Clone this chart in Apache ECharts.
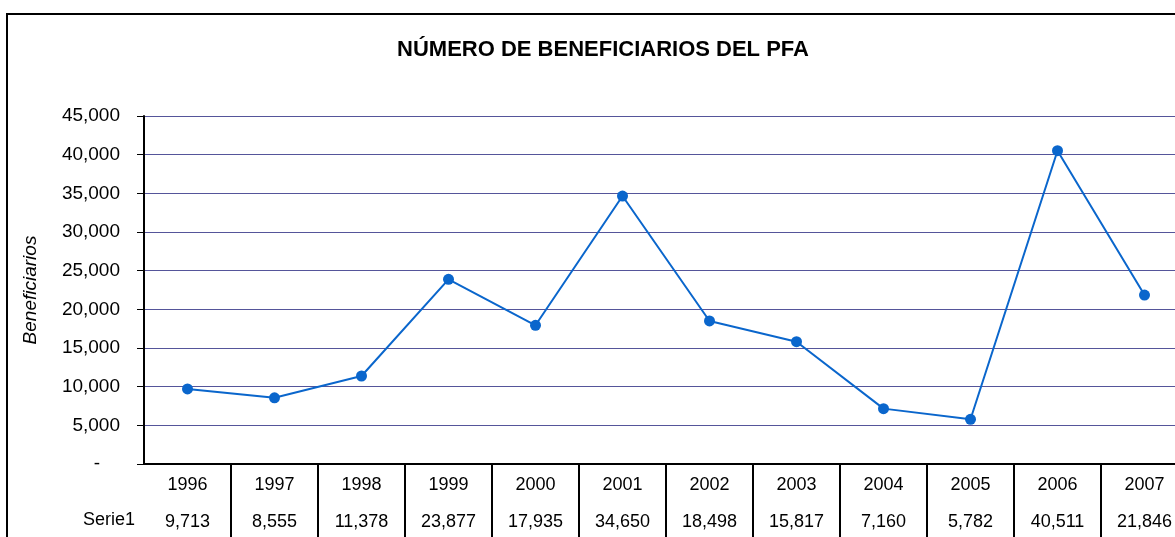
<!DOCTYPE html>
<html>
<head>
<meta charset="utf-8">
<script src="https://cdn.jsdelivr.net/npm/echarts@6/dist/echarts.min.js"></script>
<style>
html,body{margin:0;padding:0;background:#fff;}
#chart{width:1175px;height:537px;}
</style>
</head>
<body>
<div id="chart"></div>
<script>
const categories = ['1996','1997','1998','1999','2000','2001','2002','2003','2004','2005','2006','2007'];
const serie1 = [9713, 8555, 11378, 23877, 17935, 34650, 18498, 15817, 7160, 5782, 40511, 21846];
const seriesName = 'Serie1';
const chartTitle = 'NÚMERO DE BENEFICIARIOS DEL PFA';
const yAxisName = 'Beneficiarios';

const fmt = v => v === 0 ? '-' : v.toLocaleString('en-US');
const FONT = '"Liberation Sans", Arial, sans-serif';

const chart = echarts.init(document.getElementById('chart'), null, {renderer: 'canvas'});
chart.setOption({
  backgroundColor: '#ffffff',
  animation: false,
  title: {
    text: chartTitle,
    left: 598, top: 34, textAlign: 'center',
    textStyle: {fontFamily: FONT, fontWeight: 'bold', fontSize: 22, color: '#000'}
  },
  graphic: [
    {type: 'rect', shape: {x: 7, y: 14, width: 1300, height: 700}, silent: true,
     style: {fill: 'none', stroke: '#000', lineWidth: 2}},
    {type: 'text', right: 1175 - 135, top: 511, silent: true,
     style: {text: seriesName, fontFamily: FONT, fontSize: 18, fill: '#000'}}
  ],
  grid: {left: 144, top: 116, width: 1044, height: 348, containLabel: false, outerBoundsMode: 'none'},
  xAxis: {
    type: 'category',
    data: categories,
    boundaryGap: true,
    axisLine: {show: true, lineStyle: {color: '#000', width: 2}},
    axisTick: {show: true, length: 90, interval: (i) => i > 0, lineStyle: {color: '#000', width: 2}},
    axisLabel: {
      interval: 0, margin: 3,
      formatter: (val, idx) => '{y|' + val + '}\n{v|' + fmt(serie1[idx]) + '}',
      rich: {
        y: {fontFamily: FONT, fontSize: 18, color: '#000', lineHeight: 37},
        v: {fontFamily: FONT, fontSize: 18, color: '#000', lineHeight: 37}
      }
    },
    splitLine: {show: false}
  },
  yAxis: {
    type: 'value',
    min: 0, max: 45000, interval: 5000,
    name: yAxisName,
    nameLocation: 'middle',
    nameGap: 104,
    nameTextStyle: {fontFamily: FONT, fontSize: 19, fontStyle: 'italic', color: '#000'},
    axisLine: {show: true, lineStyle: {color: '#000', width: 2}},
    axisTick: {show: true, length: 7, lineStyle: {color: '#000', width: 1}},
    axisLabel: {
      margin: 24,
      fontFamily: FONT, fontSize: 19, color: '#000',
      formatter: v => v === 0 ? '{z|-}' : fmt(v),
      rich: {
        z: {fontFamily: FONT, fontSize: 19, color: '#000', padding: [0, 20, 0, 0]}
      }
    },
    splitLine: {show: true, lineStyle: {color: '#55559a', width: 1}}
  },
  series: [{
    name: seriesName,
    type: 'line',
    data: serie1,
    symbol: 'circle',
    symbolSize: 11,
    lineStyle: {color: '#0a66cc', width: 2},
    itemStyle: {color: '#0a66cc'},
    label: {show: false}
  }]
});
</script>
</body>
</html>
